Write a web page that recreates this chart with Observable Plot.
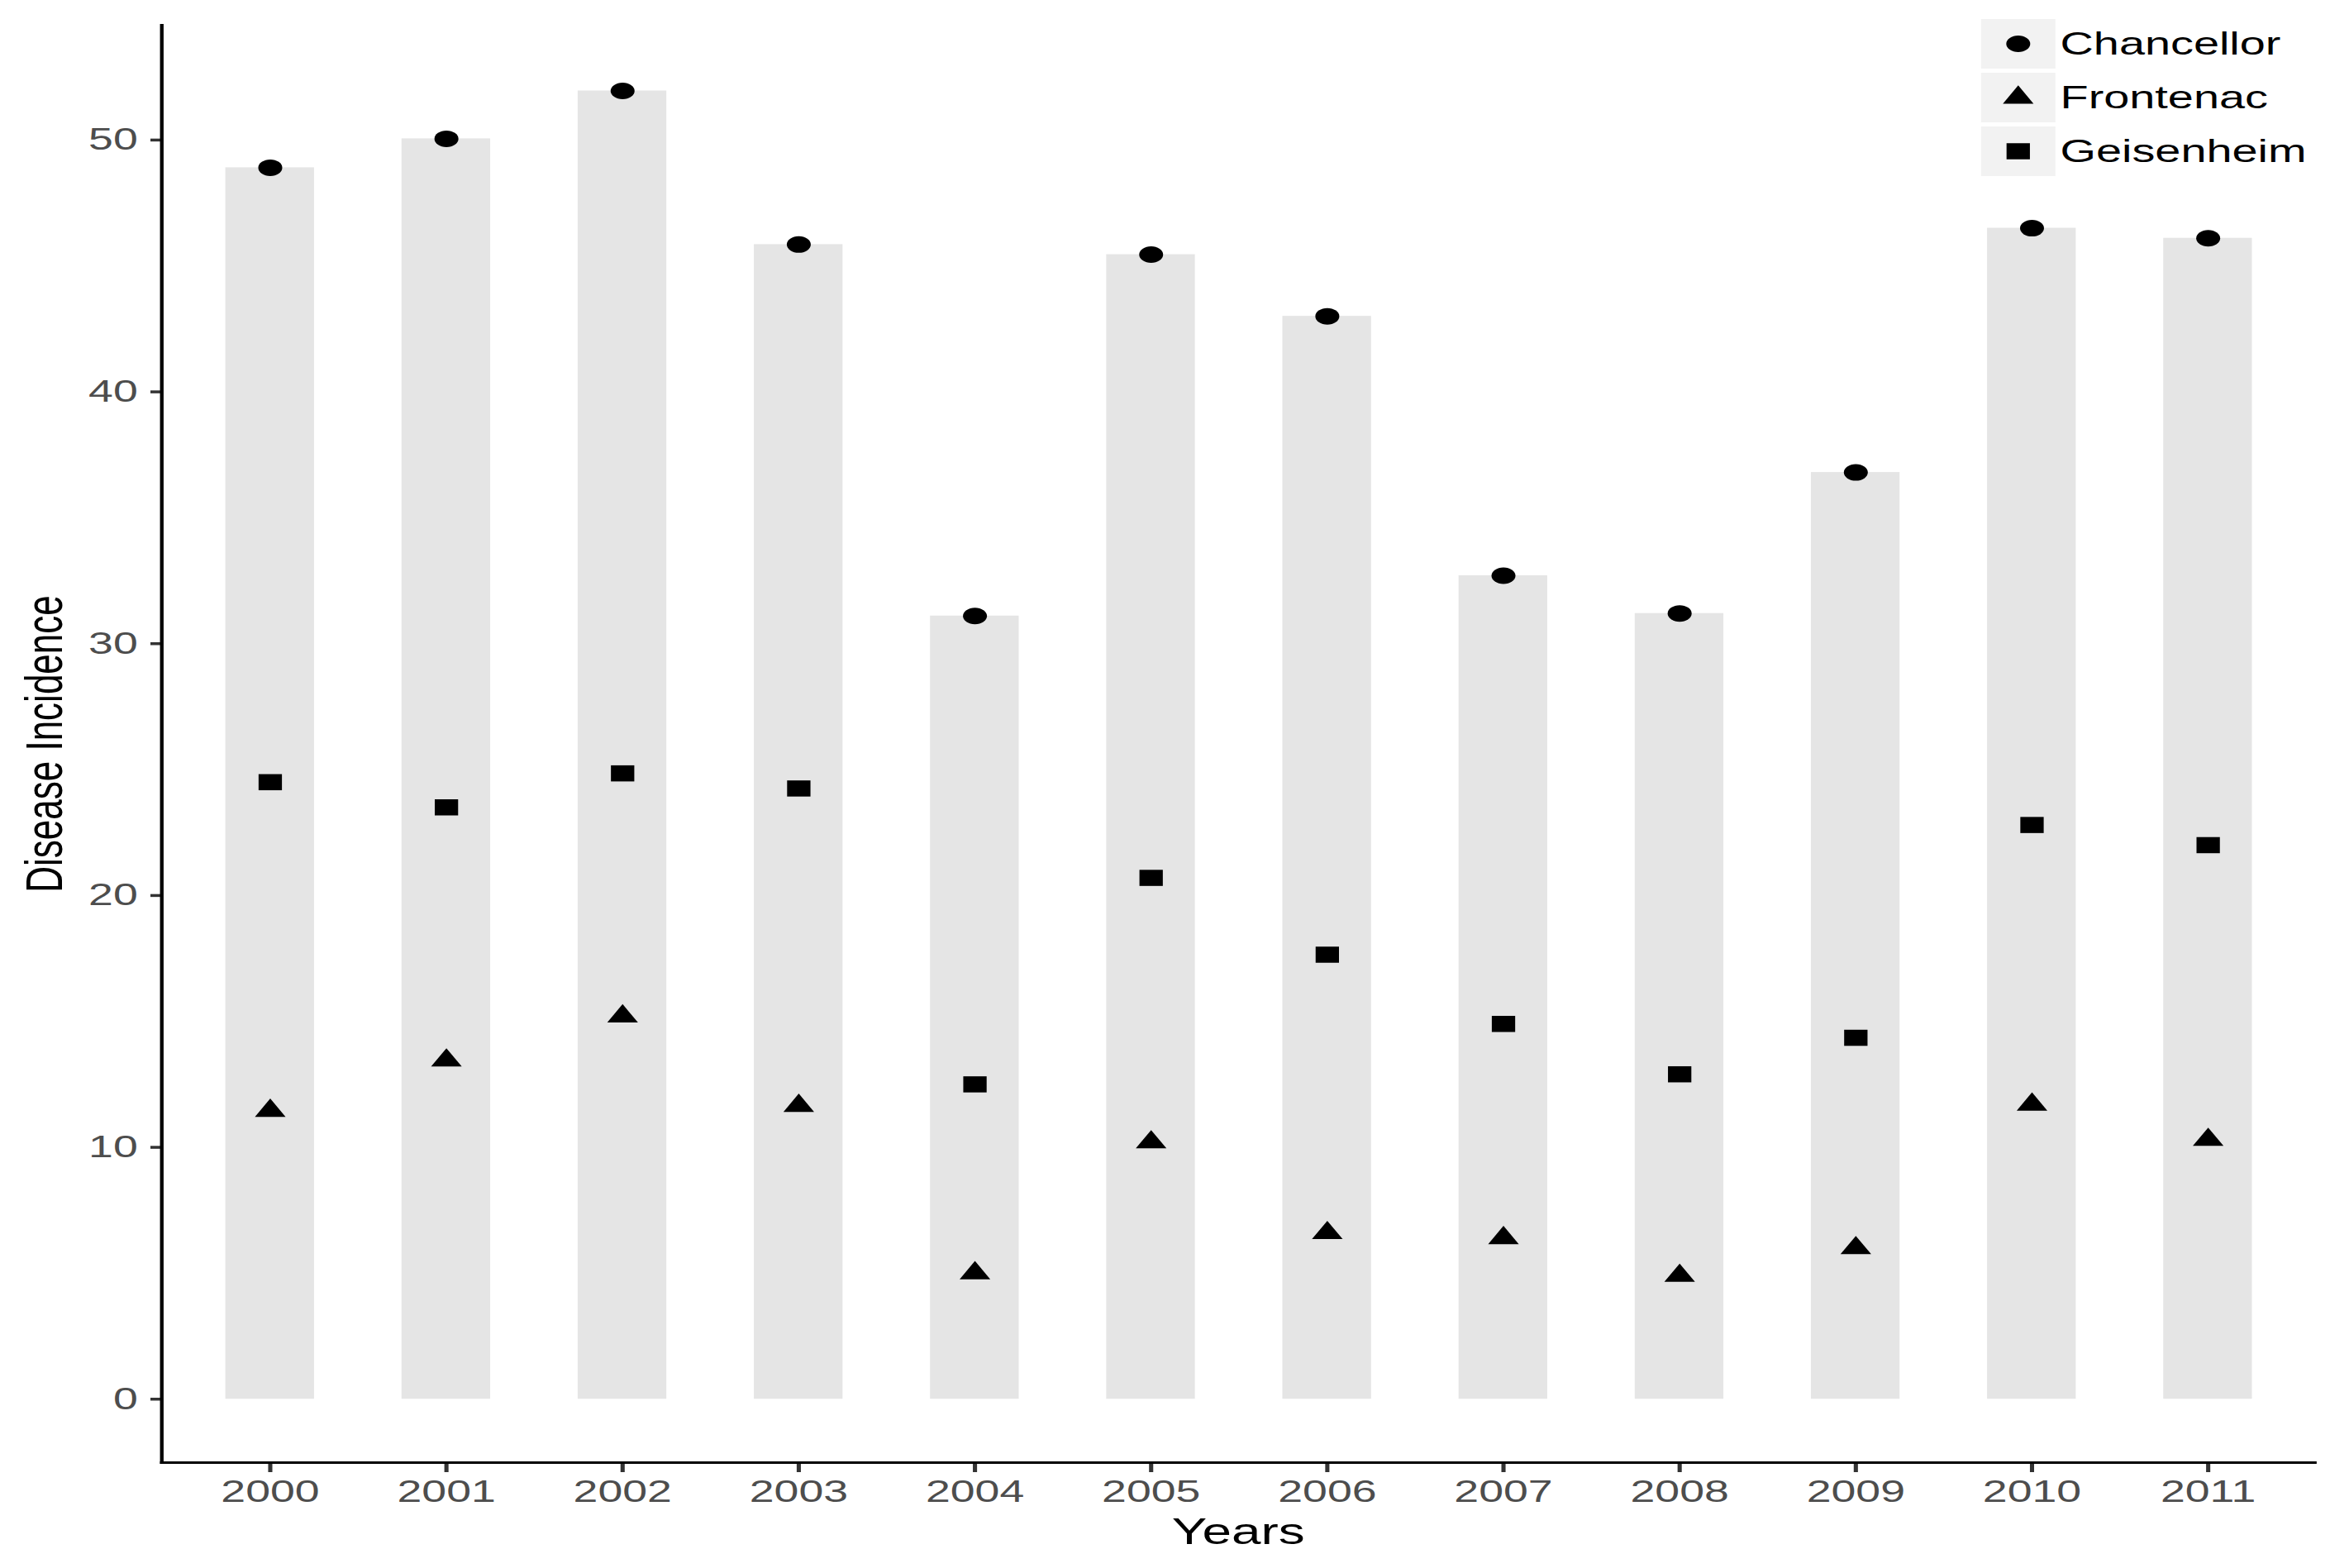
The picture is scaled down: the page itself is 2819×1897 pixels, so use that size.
<!DOCTYPE html>
<html>
<head>
<meta charset="utf-8">
<script src="https://cdn.jsdelivr.net/npm/d3@7"></script>
<script src="https://cdn.jsdelivr.net/npm/@observablehq/plot@0.6"></script>
<style>
  html, body { margin: 0; padding: 0; background: white; overflow: hidden; }
  #wrap { position: relative; width: 1944px; height: 1897px; transform: scaleX(1.45); transform-origin: 0 0; font-family: "Liberation Sans", Arial, sans-serif; }
  #legend { position: absolute; left: 1653px; top: 23px; }
  .row { display: flex; align-items: center; height: 60px; margin-bottom: 5px; }
  .key { width: 62px; height: 60px; background: #f2f2f2; }
  .lab { font-size: 38.5px; color: black; margin-left: 4px; line-height: 60px; }
  g[aria-label="y-axis tick label"], g[aria-label="x-axis tick label"] { fill: #4d4d4d; }
</style>
</head>
<body>
<div id="wrap"><div id="chart"></div><div id="legend"></div></div>
<script>
const years = ["2000","2001","2002","2003","2004","2005","2006","2007","2008","2009","2010","2011"];
const chancellor = [48.9, 50.05, 51.95, 45.85, 31.1, 45.45, 43.0, 32.7, 31.2, 36.8, 46.5, 46.1];
const frontenac = [11.45, 13.45, 15.2, 11.65, 5.0, 10.2, 6.6, 6.4, 4.9, 6.0, 11.7, 10.3];
const geisenheim = [24.5, 23.5, 24.85, 24.25, 12.5, 20.7, 17.65, 14.9, 12.9, 14.35, 22.8, 22.0];
const yTicks = [0, 10, 20, 30, 40, 50];
const yDomain = [-2.52, 54.56];
const seriesNames = ["Chancellor", "Frontenac", "Geisenheim"];
const seriesSymbols = ["circle", "triangle", "square"];
const seriesR = [10, 9.5, 11];

const data = years.map((y, i) => ({year: y, chancellor: chancellor[i], frontenac: frontenac[i], geisenheim: geisenheim[i]}));

const chart = Plot.plot({
  width: 1944,
  height: 1897,
  marginLeft: 134.5,
  marginRight: 13,
  marginTop: 30,
  marginBottom: 128,
  style: {fontFamily: "'Liberation Sans', Arial, sans-serif", background: "white", color: "black"},
  x: {type: "band", domain: years, paddingInner: 0.5, paddingOuter: 0.345, axis: null},
  y: {domain: yDomain, axis: null},
  marks: [
    Plot.barY(data, {x: "year", y: "chancellor", fill: "#e5e5e5", inset: 0}),
    Plot.dot(data, {x: "year", y: "chancellor", symbol: seriesSymbols[0], r: seriesR[0], fill: "black"}),
    Plot.dot(data, {x: "year", y: "frontenac", symbol: seriesSymbols[1], r: seriesR[1], fill: "black"}),
    Plot.dot(data, {x: "year", y: "geisenheim", symbol: seriesSymbols[2], r: seriesR[2], fill: "black"}),
    Plot.axisX({tickSize: 12, tickPadding: 9, fontSize: 37, stroke: "#333333", strokeWidth: 3.5, label: null}),
    Plot.axisY({ticks: yTicks, tickSize: 9, tickPadding: 11, fontSize: 37, stroke: "#333333", strokeWidth: 3.5, label: null}),
    Plot.frame({anchor: "left", stroke: "black", strokeWidth: 3}),
    Plot.frame({anchor: "bottom", stroke: "black", strokeWidth: 3}),
    Plot.text(["Years"], {frameAnchor: "bottom", textAnchor: "middle", dy: 84.5, fontSize: 44, lineAnchor: "middle", fill: "black"}),
    Plot.text(["Disease Incidence"], {frameAnchor: "left", textAnchor: "middle", rotate: -90, dx: -97.5, fontSize: 44, lineAnchor: "middle", fill: "black"})
  ]
});
document.getElementById("chart").appendChild(chart);

// legend
const legend = d3.select("#legend");
seriesNames.forEach((name, i) => {
  const row = legend.append("div").attr("class", "row");
  const svg = row.append("div").attr("class", "key").append("svg").attr("width", 62).attr("height", 60);
  const sym = {circle: d3.symbolCircle, triangle: d3.symbolTriangle, square: d3.symbolSquare}[seriesSymbols[i]];
  svg.append("path")
    .attr("transform", "translate(31,30)")
    .attr("d", d3.symbol(sym, Math.PI * seriesR[i] * seriesR[i])())
    .attr("fill", "black");
  row.append("div").attr("class", "lab").text(name);
});
</script>
</body>
</html>
